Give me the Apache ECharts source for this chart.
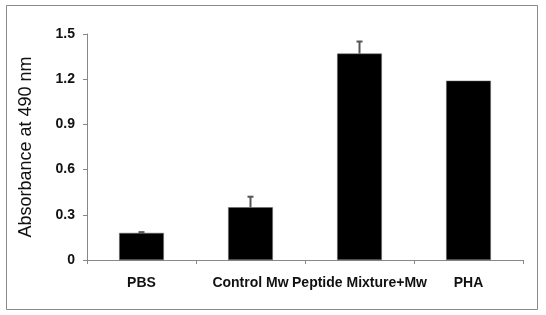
<!DOCTYPE html>
<html><head><meta charset="utf-8">
<script src="https://cdn.jsdelivr.net/npm/echarts@6/dist/echarts.min.js"></script>
<style>html,body{margin:0;padding:0;background:#fff}#c{width:546px;height:315px}</style>
</head><body><div id="c"></div>
<script>
const categories = ["PBS", "Control Mw", "Peptide Mixture+Mw", "PHA"];
const values = [0.18, 0.35, 1.37, 1.19];
const errors = [0.005, 0.07, 0.08, 0];
const yTicks = [0, 0.3, 0.6, 0.9, 1.2, 1.5];

const chart = echarts.init(document.getElementById('c'));
chart.setOption({
  animation: false,
  graphic: [{type:'rect', shape:{x:6.5,y:5.5,width:531,height:304}, style:{fill:'none', stroke:'#8a8a8a', lineWidth:1}}],
  grid: {left: 87, right: 23, top: 34, bottom: 55},
  xAxis: {
    type: 'category', data: categories,
    axisLine: {lineStyle: {color: '#888'}},
    axisTick: {show: true, alignWithLabel: false, length: 4, lineStyle: {color: '#888'}},
    axisLabel: {interval: 0, color: '#111', fontFamily: 'Liberation Sans, Arial', fontWeight: 'bold', fontSize: 14, margin: 16}
  },
  yAxis: {
    type: 'value', min: 0, max: 1.5, interval: 0.3,
    name: 'Absorbance at 490 nm', nameLocation: 'middle', nameGap: 52,
    nameTextStyle: {color: '#111', fontFamily: 'Liberation Sans, Arial', fontSize: 18},
    axisLine: {show: true, lineStyle: {color: '#888'}},
    axisTick: {show: true, length: 4, lineStyle: {color: '#888'}},
    splitLine: {show: false},
    axisLabel: {color: '#111', fontFamily: 'Liberation Sans, Arial', fontWeight: 'bold', fontSize: 14, margin: 12,
      formatter: v => { const t = yTicks.find(x => Math.abs(x - v) < 1e-9); return t === 0 ? '0' : (t !== undefined ? t.toFixed(1) : ''); }}
  },
  series: [
    {type: 'bar', data: values, barWidth: '41%', itemStyle: {color: '#000', borderColor: '#666', borderWidth: 0.5}},
    {type: 'custom', z: 1,
      data: values.map((v, i) => [i, v, v + errors[i]]),
      renderItem: (params, api) => {
        const i = api.value(0);
        const p0 = api.coord([i, api.value(1)]);
        const p1 = api.coord([i, api.value(2)]);
        if (Math.abs(p0[1] - p1[1]) < 0.5) return null;
        const cap = 3;
        return {type: 'group', children: [
          {type: 'line', shape: {x1: p0[0], y1: p0[1], x2: p1[0], y2: p1[1]}, style: {stroke: '#555', lineWidth: 2}},
          {type: 'line', shape: {x1: p1[0] - cap, y1: p1[1], x2: p1[0] + cap, y2: p1[1]}, style: {stroke: '#555', lineWidth: 2}}
        ]};
      }
    }
  ]
});
</script></body></html>
